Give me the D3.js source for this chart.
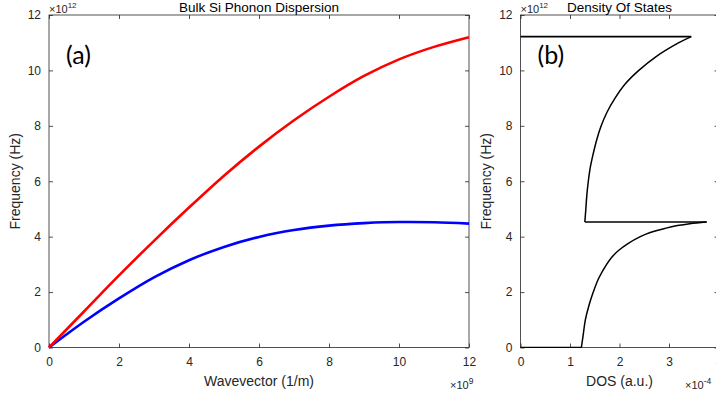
<!DOCTYPE html>
<html>
<head>
<meta charset="utf-8">
<script src="https://cdn.jsdelivr.net/npm/d3@7"></script>
<style>
  body { margin: 0; background: #fff; overflow: hidden; }
  svg { display: block; font-family: "Liberation Sans", Arial, sans-serif; }
  .tick text { fill: #262626; font-size: 12px; }
</style>
</head>
<body>
<div id="chart"></div>
<script>
// Dispersion data (wavevector in 1e9 1/m, frequency in 1e12 Hz)
var waveVector = [0, 1, 2, 3, 4, 5, 6, 7, 8, 9, 10, 11, 12];
var freqLA = [0, 1.3, 2.6, 3.85, 5.05, 6.2, 7.25, 8.2, 9.05, 9.8, 10.4, 10.85, 11.2];
var freqTA = [0, 0.93, 1.77, 2.53, 3.15, 3.63, 3.99, 4.24, 4.4, 4.49, 4.53, 4.52, 4.47];

// DOS data (frequency in 1e12 Hz, DOS in 1e-4 a.u.)
var dosLowFreq = [0, 0.5, 1, 1.5, 2, 2.5, 3, 3.25, 3.5, 3.75, 4, 4.15, 4.3, 4.4, 4.47, 4.53];
var dosLowVal = [1.23, 1.27, 1.31, 1.38, 1.47, 1.58, 1.74, 1.84, 1.98, 2.17, 2.42, 2.62, 2.92, 3.17, 3.42, 3.76];
var dosHighFreq = [4.53, 5, 5.5, 6, 6.5, 7, 7.5, 8, 8.5, 9, 9.5, 10, 10.5, 11, 11.22];
var dosHighVal = [1.3, 1.32, 1.34, 1.37, 1.41, 1.47, 1.54, 1.63, 1.75, 1.91, 2.11, 2.39, 2.74, 3.2, 3.45];

var xTicksA = [0, 2, 4, 6, 8, 10, 12];
var xTicksB = [0, 1, 2, 3, 4];
var yTicks = [0, 2, 4, 6, 8, 10, 12];

var width = 716, height = 399;
var axisColor = "#262626";

var svg = d3.select("#chart").append("svg")
  .attr("width", width)
  .attr("height", height);

var y = d3.scaleLinear().domain([0, 12]).range([347.5, 15]);
var xA = d3.scaleLinear().domain([0, 12]).range([49, 469]);
var xB = d3.scaleLinear().domain([0, 4]).range([520.5, 718.5]);

function drawFrame(x, xTicks, cfg) {
  var g = svg.append("g");
  var x0 = x.range()[0], x1 = x.range()[1];
  var y0 = y.range()[0], y1 = y.range()[1];

  // bottom axis, ticks pointing inward
  g.append("g")
    .attr("transform", "translate(0," + y0 + ")")
    .call(d3.axisBottom(x).tickValues(xTicks).tickFormat(d3.format("d")).tickSizeInner(-4).tickSizeOuter(0).tickPadding(10))
    .call(function(a) { a.select(".domain").remove(); });
  // top ticks
  g.append("g")
    .attr("transform", "translate(0," + y1 + ")")
    .call(d3.axisTop(x).tickValues(xTicks).tickSizeInner(-4).tickSizeOuter(0).tickFormat(""))
    .call(function(a) { a.select(".domain").remove(); });
  // left axis
  g.append("g")
    .attr("transform", "translate(" + x0 + ",0)")
    .call(d3.axisLeft(y).tickValues(yTicks).tickFormat(d3.format("d")).tickSizeInner(-4).tickSizeOuter(0).tickPadding(8))
    .call(function(a) { a.select(".domain").remove(); });
  // right ticks
  g.append("g")
    .attr("transform", "translate(" + x1 + ",0)")
    .call(d3.axisRight(y).tickValues(yTicks).tickSizeInner(-4).tickSizeOuter(0).tickFormat(""))
    .call(function(a) { a.select(".domain").remove(); });

  g.selectAll(".tick line").attr("stroke", axisColor).attr("stroke-width", 0.8);

  // box
  g.append("rect")
    .attr("x", x0).attr("y", y1)
    .attr("width", x1 - x0).attr("height", y0 - y1)
    .attr("fill", "none")
    .attr("stroke", axisColor)
    .attr("stroke-width", 0.8);

  // title
  svg.append("text")
    .attr("x", (x0 + x1) / 2).attr("y", 11.5)
    .attr("text-anchor", "middle")
    .attr("font-size", 13.5)
    .attr("fill", "#000")
    .text(cfg.title);

  // y exponent
  var e = svg.append("text").attr("x", x0).attr("y", 12.5).attr("font-size", 11).attr("fill", axisColor);
  e.append("tspan").text("\u00d710");
  e.append("tspan").attr("dy", -4.5).attr("font-size", 8).text("12");

  // x label
  svg.append("text")
    .attr("x", (x0 + x1) / 2).attr("y", 386)
    .attr("text-anchor", "middle")
    .attr("font-size", 14)
    .attr("fill", axisColor)
    .text(cfg.xlabel);

  // x exponent
  var ex = svg.append("text").attr("x", cfg.expX).attr("y", 389).attr("font-size", 11).attr("fill", axisColor);
  ex.append("tspan").text("\u00d710");
  ex.append("tspan").attr("dy", -5).attr("font-size", 8.5).text(cfg.expX2);

  // y label
  svg.append("text")
    .attr("transform", "translate(" + cfg.ylabX + "," + ((y0 + y1) / 2) + ") rotate(-90)")
    .attr("text-anchor", "middle")
    .attr("font-size", 14)
    .attr("fill", axisColor)
    .text("Frequency (Hz)");

  // panel letter
  svg.append("text")
    .attr("x", x0 + 17).attr("y", 64)
    .attr("font-family", "Lato, 'Open Sans', sans-serif")
    .attr("font-size", 25)
    .attr("fill", "#000")
    .text(cfg.letter);
}

drawFrame(xA, xTicksA, { title: "Bulk Si Phonon Dispersion", xlabel: "Wavevector (1/m)", expX: 450, expX2: "9", ylabX: 20, letter: "(a)" });
drawFrame(xB, xTicksB, { title: "Density Of States", xlabel: "DOS (a.u.)", expX: 685, expX2: "-4", ylabX: 491, letter: "(b)" });

// dispersion curves
var dispLine = function(vals) {
  return d3.line()
    .x(function(d, i) { return xA(waveVector[i]); })
    .y(function(d) { return y(d); })
    .curve(d3.curveMonotoneX)(vals);
};

svg.append("path")
  .attr("d", dispLine(freqTA))
  .attr("fill", "none")
  .attr("stroke", "#0000ff")
  .attr("stroke-width", 2.6);

svg.append("path")
  .attr("d", dispLine(freqLA))
  .attr("fill", "none")
  .attr("stroke", "#ff0000")
  .attr("stroke-width", 2.6);

// DOS curve
svg.append("clipPath").attr("id", "clipB")
  .append("rect").attr("x", 520).attr("y", 0).attr("width", 200).attr("height", 348);

var dosG = svg.append("g").attr("clip-path", "url(#clipB)");

function branch(freqs, vals) {
  return d3.line()
    .x(function(d, i) { return xB(vals[i]); })
    .y(function(d) { return y(d); })
    .curve(d3.curveCatmullRom.alpha(0.5))(freqs);
}

var straight = d3.line().x(function(d) { return xB(d[0]); }).y(function(d) { return y(d[1]); });
var nL = dosLowVal.length - 1, nH = dosHighVal.length - 1;

dosG.append("path")
  .attr("d", straight([[0, 0], [dosLowVal[0], dosLowFreq[0]]]))
  .attr("fill", "none").attr("stroke", "#000").attr("stroke-width", 1.5);
dosG.append("path")
  .attr("d", branch(dosLowFreq, dosLowVal))
  .attr("fill", "none").attr("stroke", "#000").attr("stroke-width", 1.5);
dosG.append("path")
  .attr("d", straight([[dosLowVal[nL], dosLowFreq[nL]], [dosHighVal[0], dosHighFreq[0]]]))
  .attr("fill", "none").attr("stroke", "#000").attr("stroke-width", 1.5);
dosG.append("path")
  .attr("d", branch(dosHighFreq, dosHighVal))
  .attr("fill", "none").attr("stroke", "#000").attr("stroke-width", 1.5);
dosG.append("path")
  .attr("d", straight([[dosHighVal[nH], dosHighFreq[nH]], [0, dosHighFreq[nH]]]))
  .attr("fill", "none").attr("stroke", "#000").attr("stroke-width", 1.8);
</script>
</body>
</html>
